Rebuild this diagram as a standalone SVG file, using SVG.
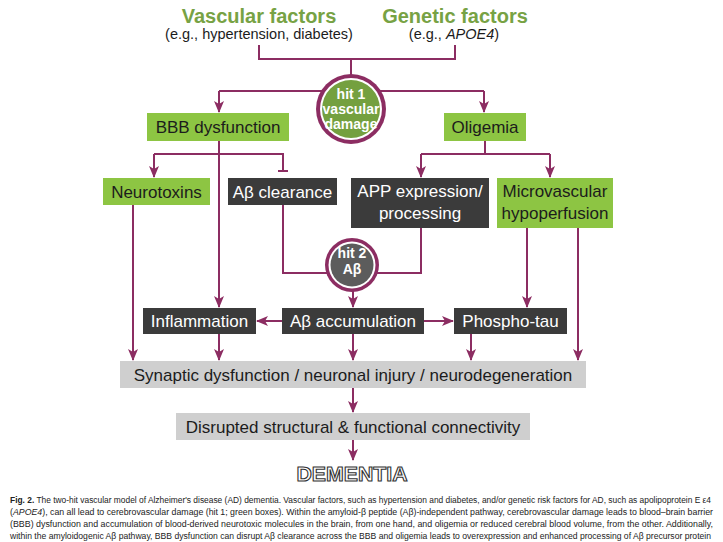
<svg xmlns="http://www.w3.org/2000/svg" width="723" height="542" viewBox="0 0 723 542">
<defs>
<style>
.bg{fill:#ffffff}
.c{fill:none;stroke:#8c2d62;stroke-width:2}
.green{fill:#8dc543}
.dark{fill:#3b3b3b}
.gray{fill:#cfcfcf}
.t{font-family:"Liberation Sans",Arial,sans-serif;font-size:17px;text-anchor:middle}
.tg{fill:#1c1c1c}
.tw{fill:#ffffff}
.title{font-family:"Liberation Sans",Arial,sans-serif;font-size:20px;font-weight:bold;fill:#77a244;text-anchor:middle}
.sub{font-family:"Liberation Sans",Arial,sans-serif;font-size:14.5px;fill:#1c1c1c;text-anchor:middle}
.hit{font-family:"Liberation Sans",Arial,sans-serif;font-size:14px;font-weight:bold;fill:#ffffff;text-anchor:middle}
.cap{font-family:"Liberation Sans",Arial,sans-serif;font-size:8.4px;fill:#222222}
</style>
<marker id="ah" markerUnits="userSpaceOnUse" markerWidth="12" markerHeight="12" viewBox="0 0 12 12" refX="11" refY="6" orient="auto">
<path d="M0,1 L12,6 L0,11 L3,6 z" fill="#8c2d62"/>
</marker>
</defs>
<rect class="bg" x="0" y="0" width="723" height="542"/>

<g id="connectors">
<path class="c" d="M259,45 V59 H455 V45 M351,59 V76"/>
<path class="c" d="M219,91 H484"/>
<path class="c" d="M219,91 V112" marker-end="url(#ah)"/>
<path class="c" d="M484,91 V112" marker-end="url(#ah)"/>
<path class="c" d="M219,141 V307" marker-end="url(#ah)"/>
<path class="c" d="M154,154 H283 V171 M278,171 H288"/>
<path class="c" d="M154,154 V177" marker-end="url(#ah)"/>
<path class="c" d="M485,141 V154 M421,154 H550"/>
<path class="c" d="M421,154 V177" marker-end="url(#ah)"/>
<path class="c" d="M550,154 V177" marker-end="url(#ah)"/>
<path class="c" d="M283,205 V273 H421 V228"/>
<path class="c" d="M353,290 V307" marker-end="url(#ah)"/>
<path class="c" d="M133,205 V360" marker-end="url(#ah)"/>
<path class="c" d="M527,228 V307" marker-end="url(#ah)"/>
<path class="c" d="M578,228 V360" marker-end="url(#ah)"/>
<path class="c" d="M282,321 H257" marker-end="url(#ah)"/>
<path class="c" d="M424,321 H453" marker-end="url(#ah)"/>
<path class="c" d="M219,334 V360" marker-end="url(#ah)"/>
<path class="c" d="M353,334 V360" marker-end="url(#ah)"/>
<path class="c" d="M471,334 V360" marker-end="url(#ah)"/>
<path class="c" d="M353,388 V412" marker-end="url(#ah)"/>
<path class="c" d="M353,440 V460" marker-end="url(#ah)"/>
</g>

<g id="vascular-factors">
<text class="title" x="259" y="23">Vascular factors</text>
<text class="sub" x="259" y="39">(e.g., hypertension, diabetes)</text>
</g>
<g id="genetic-factors">
<text class="title" x="455" y="23">Genetic factors</text>
<text class="sub" x="454" y="39">(e.g., <tspan font-style="italic">APOE4</tspan>)</text>
</g>

<g id="hit1">
<circle cx="351" cy="109" r="35" fill="#8c2d62"/>
<circle cx="351" cy="109" r="31" fill="#ffffff"/>
<circle cx="351" cy="109" r="29" fill="#74a03f"/>
<text class="hit" x="351" y="99">hit 1</text>
<text class="hit" x="351" y="114">vascular</text>
<text class="hit" x="351" y="129">damage</text>
</g>

<g id="bbb">
<rect class="green" x="147" y="113" width="142" height="28"/>
<text class="t tg" x="218" y="133">BBB dysfunction</text>
</g>
<g id="oligemia">
<rect class="green" x="444" y="113" width="82" height="28"/>
<text class="t tg" x="485" y="133">Oligemia</text>
</g>

<g id="neurotoxins">
<rect class="green" x="103" y="178" width="107" height="27"/>
<text class="t tg" x="156.5" y="197.5">Neurotoxins</text>
</g>
<g id="abeta-clearance">
<rect class="dark" x="228" y="178" width="109" height="27"/>
<text class="t tw" x="282.5" y="197.5">Aβ clearance</text>
</g>
<g id="app">
<rect class="dark" x="351" y="178" width="138" height="50"/>
<text class="t tw" x="420" y="197">APP expression/</text>
<text class="t tw" x="420" y="219">processing</text>
</g>
<g id="microvascular">
<rect class="green" x="497" y="178" width="116" height="50"/>
<text class="t tg" x="555" y="197">Microvascular</text>
<text class="t tg" x="555" y="219">hypoperfusion</text>
</g>

<g id="hit2">
<circle cx="352" cy="265" r="27" fill="#8c2d62"/>
<circle cx="352" cy="265" r="23.5" fill="#ffffff"/>
<circle cx="352" cy="265" r="21.5" fill="#5c5c5c"/>
<text class="hit" x="352" y="258">hit 2</text>
<text class="hit" x="352" y="274">Aβ</text>
</g>

<g id="inflammation">
<rect class="dark" x="143" y="308" width="113" height="26"/>
<text class="t tw" x="199.5" y="327">Inflammation</text>
</g>
<g id="abeta-accumulation">
<rect class="dark" x="282" y="308" width="142" height="26"/>
<text class="t tw" x="353" y="327">Aβ accumulation</text>
</g>
<g id="phospho-tau">
<rect class="dark" x="454" y="308" width="113" height="26"/>
<text class="t tw" x="510.5" y="327">Phospho-tau</text>
</g>

<g id="synaptic">
<rect class="gray" x="120" y="361" width="466" height="27"/>
<text class="t tg" x="353" y="381">Synaptic dysfunction / neuronal injury / neurodegeneration</text>
</g>
<g id="connectivity">
<rect class="gray" x="176" y="413" width="354" height="27"/>
<text class="t tg" x="353" y="433">Disrupted structural &amp; functional connectivity</text>
</g>
<g id="dementia">
<text x="352" y="481" font-family="Liberation Sans,Arial,sans-serif" font-size="21" font-weight="bold" text-anchor="middle" fill="#ffffff" stroke="#333333" stroke-width="1.1" textLength="111" lengthAdjust="spacingAndGlyphs">DEMENTIA</text>
</g>

<g id="caption">
<text class="cap" x="10" y="503" textLength="701" lengthAdjust="spacingAndGlyphs"><tspan font-weight="bold">Fig. 2.</tspan> The two-hit vascular model of Alzheimer's disease (AD) dementia. Vascular factors, such as hypertension and diabetes, and/or genetic risk factors for AD, such as apolipoprotein E ε4</text>
<text class="cap" x="10" y="515" textLength="703" lengthAdjust="spacingAndGlyphs">(<tspan font-style="italic">APOE4</tspan>), can all lead to cerebrovascular damage (hit 1; green boxes). Within the amyloid-β peptide (Aβ)-independent pathway, cerebrovascular damage leads to blood–brain barrier</text>
<text class="cap" x="10" y="527" textLength="703" lengthAdjust="spacingAndGlyphs">(BBB) dysfunction and accumulation of blood-derived neurotoxic molecules in the brain, from one hand, and oligemia or reduced cerebral blood volume, from the other. Additionally,</text>
<text class="cap" x="10" y="539" textLength="701" lengthAdjust="spacingAndGlyphs">within the amyloidogenic Aβ pathway, BBB dysfunction can disrupt Aβ clearance across the BBB and oligemia leads to overexpression and enhanced processing of Aβ precursor protein</text>
</g>
</svg>
